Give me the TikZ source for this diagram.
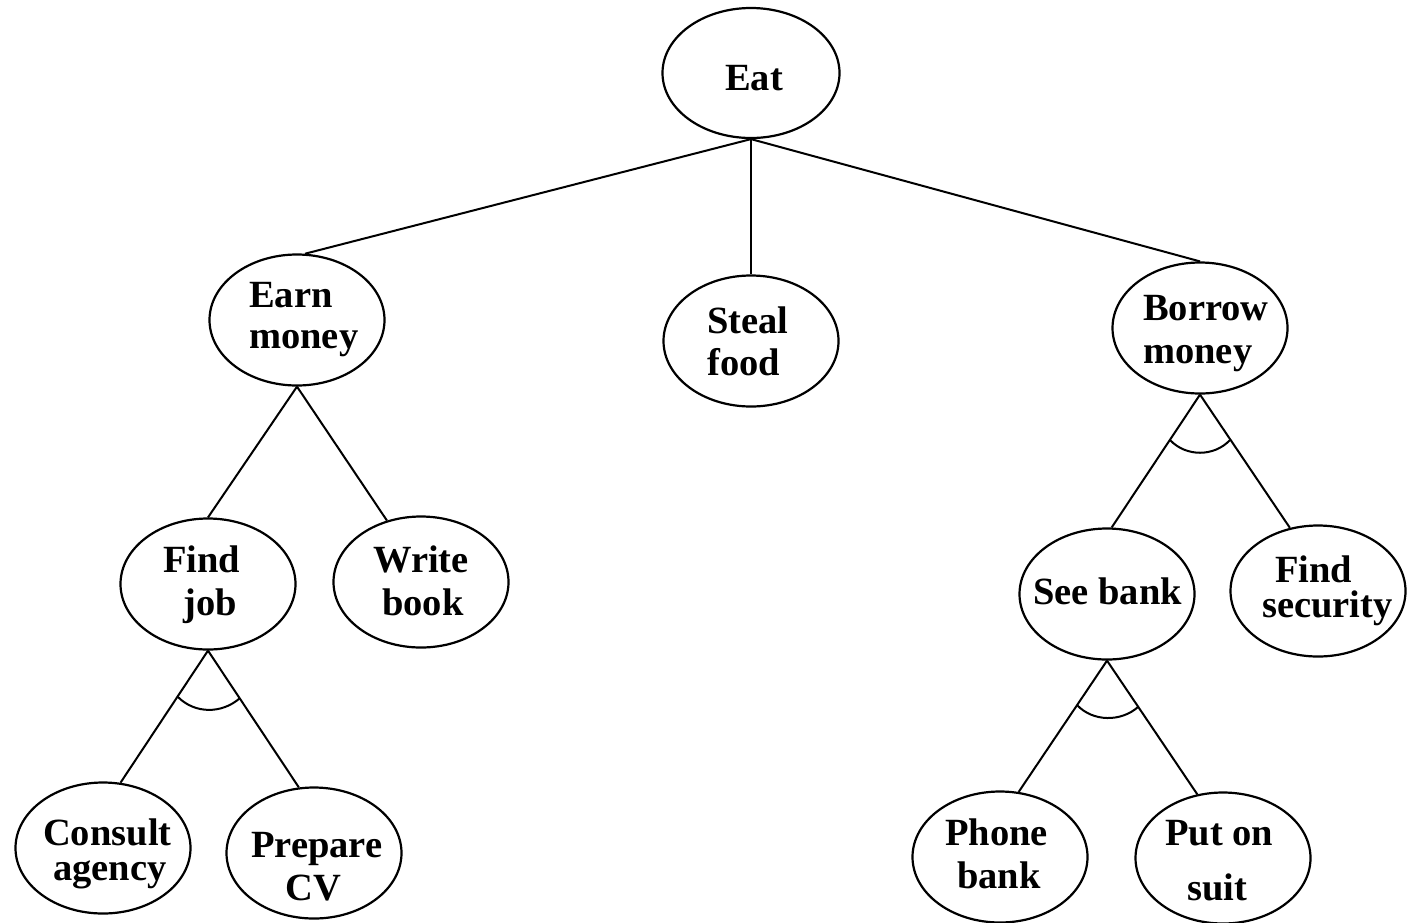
\documentclass[tikz,border=0pt]{standalone}
\usepackage{fontspec}
\setmainfont{Liberation Serif}
\usetikzlibrary{shapes.geometric}

\begin{document}
\begin{tikzpicture}[x=1pt,y=-1pt,
  goal/.style={draw, ellipse, line width=2.2pt, inner sep=0pt,
               minimum width=175pt, minimum height=131pt},
  lbl/.style={anchor=base west, inner sep=0pt,
              font=\fontsize{38.5}{40}\selectfont\bfseries},
  link/.style={line width=2pt},
  andarc/.style={line width=2pt}
]
\useasboundingbox (0,0) rectangle (1412,922);

% goal ellipses
\node[goal, minimum width=177pt, minimum height=130pt] (eat) at (751,73) {};
\node[goal] (earn)    at (297,320) {};
\node[goal] (steal)   at (751,341) {};
\node[goal] (borrow)  at (1200,328) {};
\node[goal] (findjob) at (208,584) {};
\node[goal] (write)   at (421,582) {};
\node[goal] (seebank) at (1107,594) {};
\node[goal] (findsec) at (1318,591) {};
\node[goal] (consult) at (103,848) {};
\node[goal] (prepare) at (314,853) {};
\node[goal] (phone)   at (1000,857) {};
\node[goal] (puton)   at (1223,858) {};

% labels
\node[lbl] (t-eat)     at (725,90)   {Eat};
\node[lbl] (t-earn1)   at (249,307)  {Earn};
\node[lbl] (t-earn2)   at (249,348)  {money};
\node[lbl] (t-steal1)  at (707,333)  {Steal};
\node[lbl] (t-steal2)  at (707,375)  {food};
\node[lbl] (t-bor1)    at (1143,320) {Borrow};
\node[lbl] (t-bor2)    at (1143,363) {money};
\node[lbl] (t-job1)    at (163,572)  {Find};
\node[lbl] (t-job2)    at (183,615)  {job};
\node[lbl] (t-wr1)     at (373,572)  {Write};
\node[lbl] (t-wr2)     at (382,615)  {book};
\node[lbl] (t-see)     at (1033,604) {See bank};
\node[lbl] (t-sec1)    at (1275,582) {Find};
\node[lbl] (t-sec2)    at (1262,617) {security};
\node[lbl] (t-con1)    at (43,845)   {Consult};
\node[lbl] (t-con2)    at (53,880)   {agency};
\node[lbl] (t-prep1)   at (251,857)  {Prepare};
\node[lbl] (t-prep2)   at (285,900)  {CV};
\node[lbl] (t-ph1)     at (945,845)  {Phone};
\node[lbl] (t-ph2)     at (957,888)  {bank};
\node[lbl] (t-put1)    at (1165,845) {Put on};
\node[lbl] (t-put2)    at (1187,900) {suit};

% links between goals and subgoals
\draw[link] (eat.south) -- (earn.83);
\draw[link] (eat.south) -- (steal.north);
\draw[link] (eat.south) -- (borrow.north);
\draw[link] (earn.south) -- (findjob.north);
\draw[link] (earn.south) -- (write.119);
\draw[link] (borrow.south) -- (seebank.86);
\draw[link] (borrow.south) -- (findsec.114);
\draw[link] (findjob.south) -- (consult.75);
\draw[link] (findjob.south) -- (prepare.103);
\draw[link] (seebank.south) -- (phone.74);
\draw[link] (seebank.south) -- (puton.112);

% AND arcs
\draw[andarc] (178,697) .. controls (195,714) and (222,714) .. (240,698);
\draw[andarc] (1170,440) .. controls (1186,457) and (1214,457) .. (1230,440);
\draw[andarc] (1077,705) .. controls (1093,722) and (1121,722) .. (1138,707);
\end{tikzpicture}
\end{document}
